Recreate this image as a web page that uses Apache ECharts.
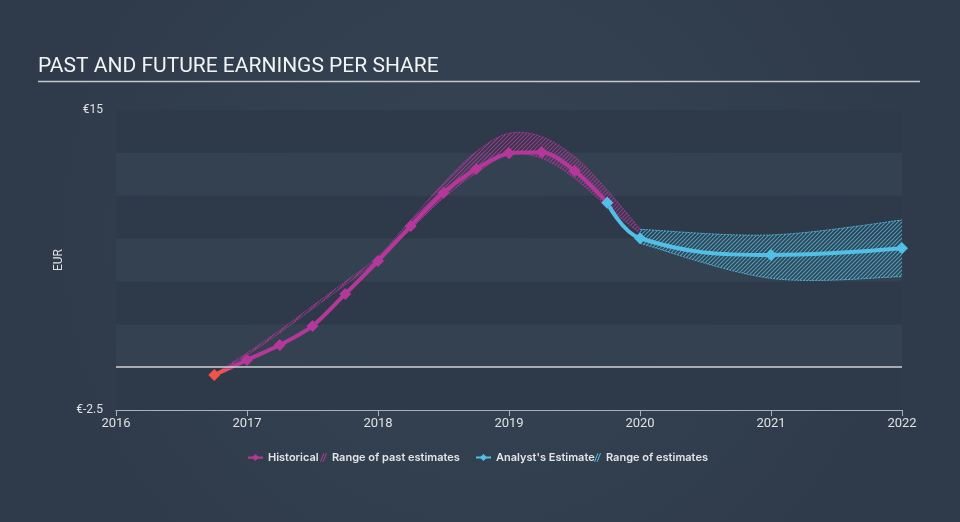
<!DOCTYPE html>
<html>
<head>
<meta charset="utf-8">
<script src="https://cdn.jsdelivr.net/npm/echarts@6/dist/echarts.min.js"></script>
<style>
  html, body { margin: 0; padding: 0; }
  #chart { width: 960px; height: 522px; }
</style>
</head>
<body>
<div id="chart"></div>
<script>
// past earnings per share (decimal years)
var histYears = [2016.75, 2017, 2017.25, 2017.5, 2017.75, 2018, 2018.25, 2018.5, 2018.75, 2019, 2019.25, 2019.5, 2019.75];
var histEps = [-0.46, 0.42, 1.29, 2.40, 4.27, 6.19, 8.24, 10.18, 11.56, 12.47, 12.53, 11.46, 9.59];

// range of past estimates
var pastYears = [2016.75, 2017, 2017.25, 2017.5, 2017.75, 2018, 2018.25, 2018.5, 2018.75, 2019, 2019.25, 2019.5, 2019.75, 2020];
var pastLow = [-0.45, 0.70, 2.00, 3.40, 4.80, 6.25, 8.05, 9.87, 11.33, 12.38, 12.18, 11.02, 9.36, 7.81];
var pastHigh = [-0.40, 0.83, 2.15, 3.57, 4.99, 6.45, 8.58, 10.74, 12.57, 13.64, 13.44, 12.28, 10.33, 8.06];

// analyst estimate
var estYears = [2019.75, 2020, 2021, 2022];
var estEps = [9.59, 7.52, 6.54, 6.93];

// range of estimates
var rangeYears = [2020, 2021, 2022];
var rangeLow = [7.22, 5.18, 5.28];
var rangeHigh = [8.04, 7.71, 8.58];

var yTicks = [-2.5, 15];

var MAGENTA = '#b5379a';
var RED = '#f2524a';
var BLUE = '#52c0e6';

function hatch(color) {
	var c = document.createElement('canvas');
	c.width = 4; c.height = 4;
	var ctx = c.getContext('2d');
	ctx.strokeStyle = color;
	ctx.lineWidth = 1.2;
	ctx.beginPath();
	ctx.moveTo(0, 4); ctx.lineTo(4, 0);
	ctx.moveTo(-1, 1); ctx.lineTo(1, -1);
	ctx.moveTo(3, 5); ctx.lineTo(5, 3);
	ctx.stroke();
	return c;
}

// catmull-rom style curve through screen points
function curve(pts, start) {
	var d = start + pts[0][0] + ',' + pts[0][1];
	var n = pts.length;
	for (var i = 0; i < n - 1; i++) {
		var p0 = pts[Math.max(i - 1, 0)], p1 = pts[i], p2 = pts[i + 1], p3 = pts[Math.min(i + 2, n - 1)];
		var c1x = p1[0] + (p2[0] - p0[0]) / 6, c1y = p1[1] + (p2[1] - p0[1]) / 6;
		var c2x = p2[0] - (p3[0] - p1[0]) / 6, c2y = p2[1] - (p3[1] - p1[1]) / 6;
		d += 'C' + c1x + ',' + c1y + ' ' + c2x + ',' + c2y + ' ' + p2[0] + ',' + p2[1];
	}
	return d;
}

function bandSeries(name, xs, lo, hi, color, fill) {
	return {
		name: name, type: 'custom', silent: true,
		data: xs.map(function (x, i) { return [x, lo[i], hi[i]]; }),
		encode: { x: 0, y: [1, 2] },
		itemStyle: { color: color },
		renderItem: function (params, api) {
			if (params.dataIndex !== 0) return;
			var top = xs.map(function (x, i) { return api.coord([x, hi[i]]); });
			var bot = xs.map(function (x, i) { return api.coord([x, lo[i]]); });
			var area = curve(top, 'M') + curve(bot.slice().reverse(), 'L') + 'Z';
			var edge = { stroke: color, lineWidth: 1, lineDash: [2, 1], fill: null, opacity: 0.85 };
			return {
				type: 'group',
				children: [
					{ type: 'path', shape: { pathData: area }, style: { fill: { image: hatch(fill), repeat: 'repeat' }, stroke: null } },
					{ type: 'path', shape: { pathData: curve(top, 'M') }, style: edge },
					{ type: 'path', shape: { pathData: curve(bot, 'M') }, style: edge }
				]
			};
		}
	};
}

// historical line: red below zero, magenta above
var histMax = Math.max.apply(null, histEps), histMin = Math.min.apply(null, histEps);
var zeroAt = histMax / (histMax - histMin);
var histGradient = {
	type: 'linear', x: 0, y: 0, x2: 0, y2: 1,
	colorStops: [
		{ offset: 0, color: MAGENTA }, { offset: zeroAt, color: MAGENTA },
		{ offset: zeroAt, color: RED }, { offset: 1, color: RED }
	]
};

var hatchIcon = 'path://M0,10L4,0L5.2,0L1.2,10Z M3,10L7,0L8.2,0L4.2,10Z';
var legendText = { color: '#e2e4e8', fontSize: 11, fontWeight: 600, fontFamily: 'Inter' };

function legendAt(name, left, w, h, icon, color) {
	var item = { name: name };
	if (icon) { item.icon = icon; item.itemStyle = { color: color }; }
	return {
		data: [item], left: left, top: 452, padding: 0,
		itemWidth: w, itemHeight: h, itemGap: 0,
		textStyle: legendText, selectedMode: false
	};
}

var chart = echarts.init(document.getElementById('chart'));
var option = {
	animation: false,
	backgroundColor: {
		type: 'radial', x: 0.5, y: 0.45, r: 0.85,
		colorStops: [{ offset: 0, color: '#364454' }, { offset: 1, color: '#2f3b4a' }]
	},
	title: {
		text: 'PAST AND FUTURE EARNINGS PER SHARE',
		left: 38, top: 56,
		padding: 0,
		textStyle: { color: '#f2f3f5', fontSize: 21, fontWeight: 'normal', fontFamily: 'Roboto' }
	},
	graphic: [{
		type: 'line',
		shape: { x1: 38, y1: 81.5, x2: 920, y2: 81.5 },
		style: { stroke: '#c4c8cc', lineWidth: 1.5 }
	}],
	legend: [
		legendAt('Historical', 247, 15, 9),
		legendAt('Range of past estimates', 320, 7, 10, hatchIcon, MAGENTA),
		legendAt("Analyst's Estimate", 475, 15, 9),
		legendAt('Range of estimates', 594, 7, 10, hatchIcon, BLUE)
	],
	grid: { left: 116, right: 58, top: 110, bottom: 112 },
	xAxis: {
		type: 'value', min: 2016, max: 2022, interval: 1,
		axisLine: { onZero: false, lineStyle: { color: '#a9b1bb', width: 1 } },
		axisTick: { show: true, length: 6, lineStyle: { color: '#a9b1bb' } },
		axisLabel: { color: '#dfe1e4', fontSize: 13, margin: 7, fontFamily: 'Roboto', formatter: function (v) { return String(v); } },
		splitLine: { show: false }
	},
	yAxis: {
		type: 'value', min: -2.5, max: 15, interval: 2.5,
		name: 'EUR', nameLocation: 'middle', nameGap: 39, nameRotate: 90,
		nameTextStyle: { color: '#dfe1e4', fontSize: 12, fontFamily: 'Roboto' },
		axisLine: { show: false },
		axisTick: { show: false },
		axisLabel: {
			color: '#dfe1e4', fontSize: 12, margin: 13, fontFamily: 'Roboto',
			formatter: function (v) { return yTicks.indexOf(v) >= 0 ? '€' + v : ''; }
		},
		splitLine: { show: false },
		splitArea: { show: true, areaStyle: { color: ['#2e3a49', '#344151'] } }
	},
	series: [
		{
			name: 'zero', type: 'line', data: [], silent: true,
			markLine: {
				silent: true, symbol: 'none', label: { show: false },
				lineStyle: { color: '#cfd2d6', width: 1.5, type: 'solid' },
				data: [{ yAxis: 0 }]
			}
		},
		bandSeries('Range of past estimates', pastYears, pastLow, pastHigh, MAGENTA, 'rgba(181,55,154,0.8)'),
		bandSeries('Range of estimates', rangeYears, rangeLow, rangeHigh, BLUE, 'rgba(82,192,230,0.75)'),
		{
			name: 'Historical', type: 'line', smooth: 0.3,
			data: histYears.map(function (x, i) {
				return { value: [x, histEps[i]], itemStyle: { color: histEps[i] < 0 ? RED : MAGENTA } };
			}),
			symbol: 'diamond', symbolSize: 12,
			itemStyle: { color: MAGENTA },
			lineStyle: { width: 4, color: histGradient }
		},
		{
			name: "Analyst's Estimate", type: 'line', smooth: 0.4,
			data: estYears.map(function (x, i) { return [x, estEps[i]]; }),
			symbol: 'diamond', symbolSize: 12,
			itemStyle: { color: BLUE },
			lineStyle: { color: BLUE, width: 4 }
		}
	]
};
chart.setOption(option);
</script>
</body>
</html>
